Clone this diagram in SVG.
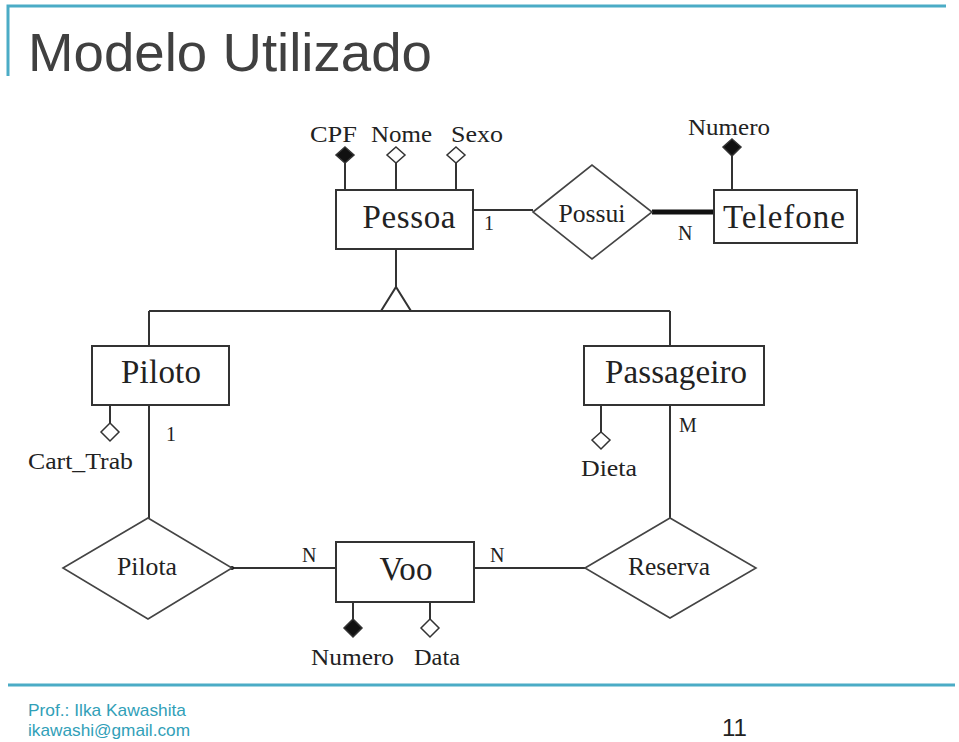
<svg xmlns="http://www.w3.org/2000/svg" width="959" height="742" viewBox="0 0 959 742">
<style>
.frame{stroke:#4bacc6;stroke-width:3;fill:none}
.title{font-family:"Liberation Sans",Arial,sans-serif;font-size:54px;fill:#404040}
.foot{font-family:"Liberation Sans",Arial,sans-serif;font-size:17px;fill:#31a0b8}
.page{font-family:"Liberation Sans",Arial,sans-serif;font-size:24px;fill:#222}
.ent rect{fill:#fff;stroke:#333;stroke-width:2}
.rel polygon{fill:#fff;stroke:#444;stroke-width:1.6}
.en{font-family:"Liberation Serif","Times New Roman",serif;font-size:33px;fill:#222;text-anchor:middle}
.rn{font-family:"Liberation Serif","Times New Roman",serif;font-size:26px;fill:#222;text-anchor:middle}
.an{font-family:"Liberation Serif","Times New Roman",serif;font-size:23px;fill:#222}
.cd{font-family:"Liberation Serif","Times New Roman",serif;font-size:20px;fill:#222}
.ln{stroke:#333;stroke-width:2;fill:none}
.key{fill:#111;stroke:#333;stroke-width:1.5}
.opt{fill:#fff;stroke:#333;stroke-width:1.5}
</style>
<rect width="959" height="742" fill="#fff"/>
<path class="frame" d="M8 76V6H946"/>
<line class="frame" x1="8" y1="685" x2="955" y2="685"/>
<text class="title" x="28" y="71" textLength="404" lengthAdjust="spacingAndGlyphs">Modelo Utilizado</text>
<text class="foot" x="28" y="716" textLength="158" lengthAdjust="spacingAndGlyphs">Prof.: Ilka Kawashita</text>
<text class="foot" x="28" y="736" textLength="162" lengthAdjust="spacingAndGlyphs">ikawashi@gmail.com</text>
<text class="page" x="722" y="736" textLength="25" lengthAdjust="spacingAndGlyphs">11</text>

<g id="connectors">
<line class="ln" x1="473" y1="210" x2="533" y2="210"/>
<line x1="652" y1="212" x2="714" y2="212" stroke="#111" stroke-width="5"/>
<line class="ln" x1="396" y1="249" x2="396" y2="287"/>
<path class="ln" d="M381 311L396 287L411 311"/>
<line class="ln" x1="149" y1="311" x2="670" y2="311"/>
<line class="ln" x1="149" y1="311" x2="149" y2="346"/>
<line class="ln" x1="670" y1="311" x2="670" y2="346"/>
<line class="ln" x1="149" y1="405" x2="149" y2="518"/>
<line class="ln" x1="670" y1="405" x2="670" y2="518"/>
<line class="ln" x1="232" y1="568" x2="336" y2="568"/>
<line class="ln" x1="474" y1="568" x2="585" y2="568"/>
<circle cx="232" cy="568" r="2" fill="#111"/>
<text class="cd" x="484" y="230">1</text>
<text class="cd" x="678" y="240">N</text>
<text class="cd" x="166" y="441">1</text>
<text class="cd" x="679" y="432">M</text>
<text class="cd" x="302" y="562">N</text>
<text class="cd" x="490" y="562">N</text>
</g>

<g id="pessoa" class="ent">
<rect x="336" y="190" width="137" height="59"/>
<text class="en" x="409" y="228" textLength="93" lengthAdjust="spacing">Pessoa</text>
</g>
<g id="pessoa-cpf">
<line class="ln" x1="345" y1="163" x2="345" y2="190"/>
<polygon class="key" points="345,147 354,155 345,163 336,155"/>
<text class="an" x="310" y="142" textLength="47" lengthAdjust="spacingAndGlyphs">CPF</text>
</g>
<g id="pessoa-nome">
<line class="ln" x1="396" y1="163" x2="396" y2="190"/>
<polygon class="opt" points="396,147 405,155 396,163 387,155"/>
<text class="an" x="371" y="142" textLength="61" lengthAdjust="spacingAndGlyphs">Nome</text>
</g>
<g id="pessoa-sexo">
<line class="ln" x1="456" y1="163" x2="456" y2="190"/>
<polygon class="opt" points="456,147 465,155 456,163 447,155"/>
<text class="an" x="451" y="142" textLength="52" lengthAdjust="spacingAndGlyphs">Sexo</text>
</g>

<g id="possui" class="rel">
<polygon points="533,212 592,165 652,212 592,259"/>
<text class="rn" x="592" y="222" textLength="67" lengthAdjust="spacingAndGlyphs">Possui</text>
</g>

<g id="telefone" class="ent">
<rect x="714" y="190" width="143" height="53"/>
<text class="en" x="784" y="228" textLength="122" lengthAdjust="spacing">Telefone</text>
</g>
<g id="telefone-numero">
<line class="ln" x1="732" y1="156" x2="732" y2="190"/>
<polygon class="key" points="732,139 741,147 732,156 723,147"/>
<text class="an" x="688" y="135" textLength="82" lengthAdjust="spacingAndGlyphs">Numero</text>
</g>

<g id="piloto" class="ent">
<rect x="92" y="346" width="137" height="59"/>
<text class="en" x="161" y="383" textLength="80" lengthAdjust="spacing">Piloto</text>
</g>
<g id="piloto-carttrab">
<line class="ln" x1="110" y1="405" x2="110" y2="423"/>
<polygon class="opt" points="110,423 119,432 110,441 101,432"/>
<text class="an" x="28" y="469" textLength="105" lengthAdjust="spacingAndGlyphs">Cart_Trab</text>
</g>

<g id="passageiro" class="ent">
<rect x="584" y="346" width="180" height="59"/>
<text class="en" x="676" y="383" textLength="142" lengthAdjust="spacing">Passageiro</text>
</g>
<g id="passageiro-dieta">
<line class="ln" x1="601" y1="405" x2="601" y2="432"/>
<polygon class="opt" points="601,432 610,440 601,449 592,440"/>
<text class="an" x="581" y="476" textLength="56" lengthAdjust="spacingAndGlyphs">Dieta</text>
</g>

<g id="pilota" class="rel">
<polygon points="63,568 148,518 232,568 148,619"/>
<text class="rn" x="147" y="575" textLength="60" lengthAdjust="spacingAndGlyphs">Pilota</text>
</g>

<g id="voo" class="ent">
<rect x="336" y="542" width="138" height="60"/>
<text class="en" x="406" y="580" textLength="53" lengthAdjust="spacing">Voo</text>
</g>
<g id="voo-numero">
<line class="ln" x1="353" y1="602" x2="353" y2="619"/>
<polygon class="key" points="353,619 362,628 353,637 344,628"/>
<text class="an" x="311" y="665" textLength="83" lengthAdjust="spacingAndGlyphs">Numero</text>
</g>
<g id="voo-data">
<line class="ln" x1="430" y1="602" x2="430" y2="619"/>
<polygon class="opt" points="430,619 439,628 430,637 421,628"/>
<text class="an" x="414" y="665" textLength="46" lengthAdjust="spacingAndGlyphs">Data</text>
</g>

<g id="reserva" class="rel">
<polygon points="585,568 670,518 756,568 670,618"/>
<text class="rn" x="669" y="575" textLength="82" lengthAdjust="spacingAndGlyphs">Reserva</text>
</g>
</svg>
